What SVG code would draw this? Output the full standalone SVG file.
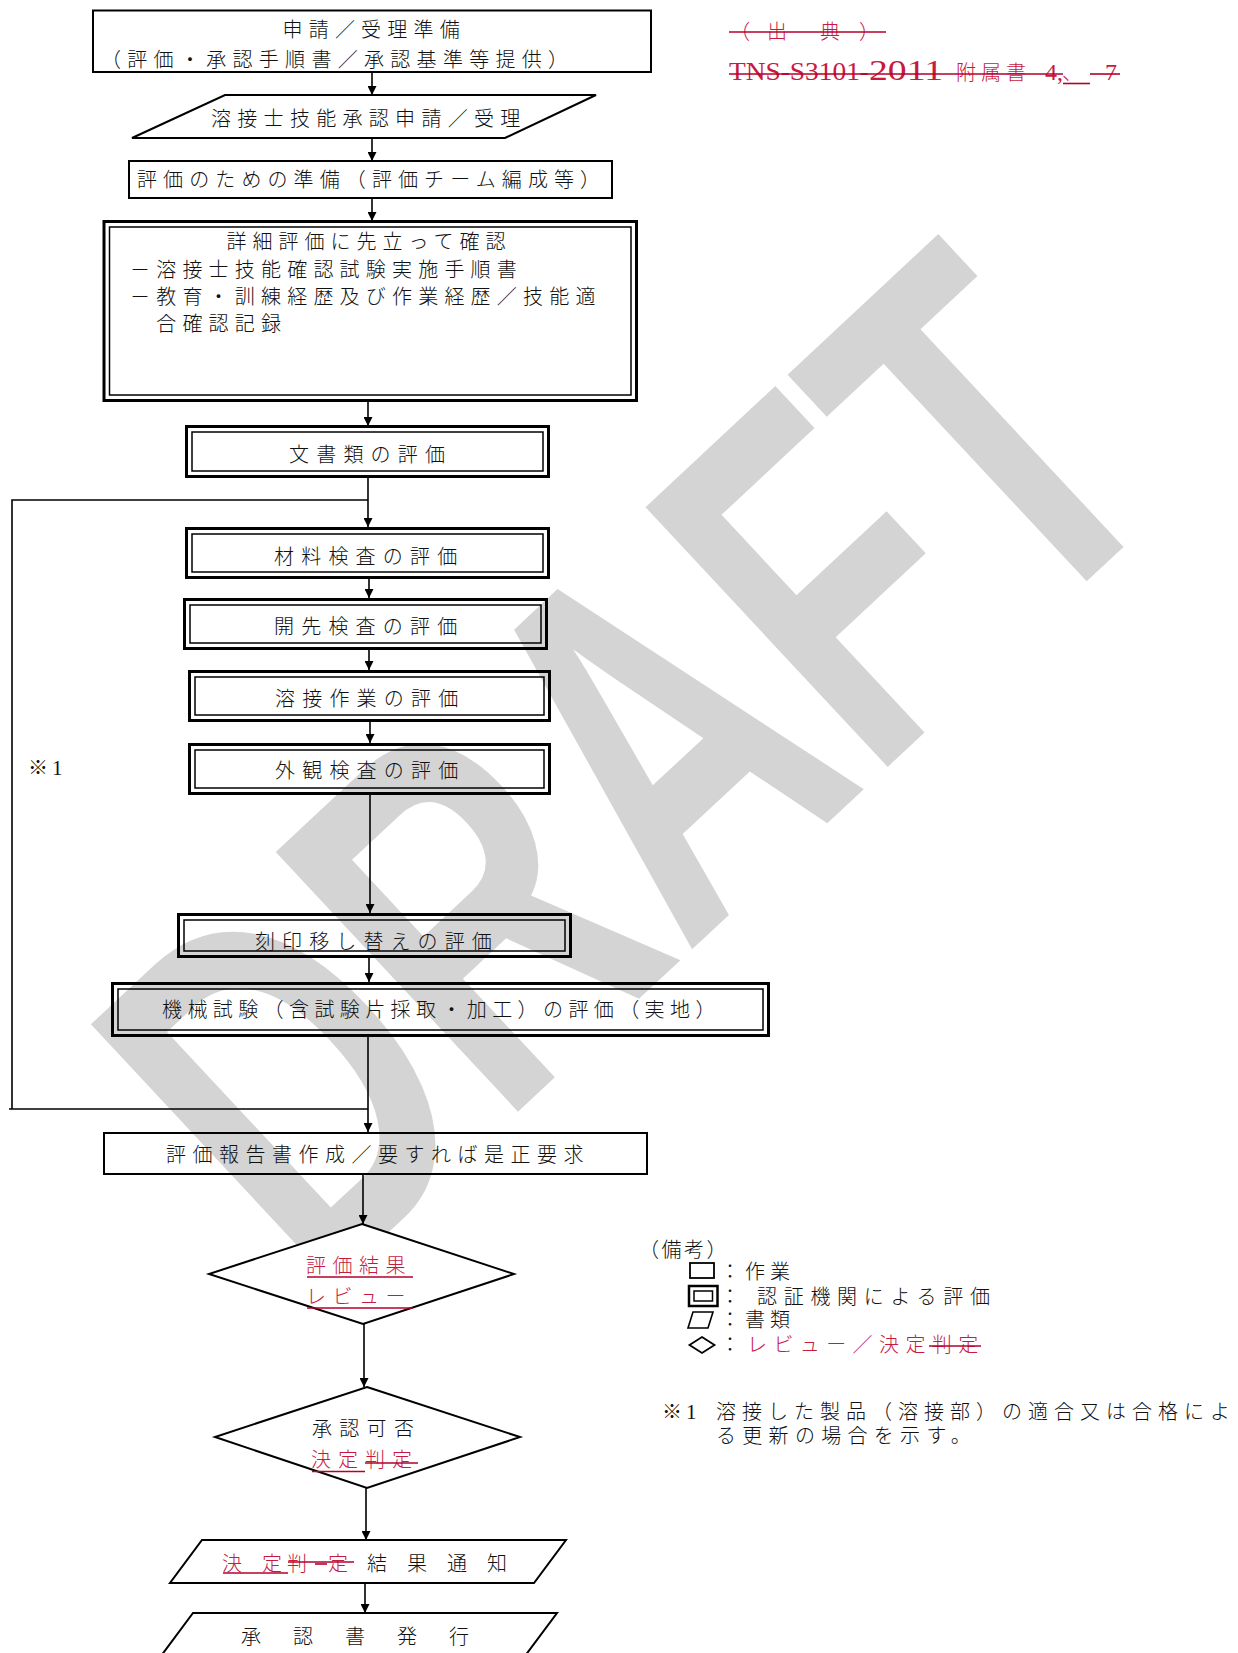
<svg xmlns="http://www.w3.org/2000/svg" width="1238" height="1653" viewBox="0 0 1238 1653">
<defs>
<marker id="ah" viewBox="0 0 10 10" refX="10" refY="5" markerWidth="9" markerHeight="9" markerUnits="userSpaceOnUse" orient="auto">
<path d="M0,0 L10,5 L0,10 Z" fill="#000"/>
</marker>
<style>
.t{font-family:"Noto Sans CJK JP","Noto Sans CJK SC",sans-serif;font-size:20px;font-weight:300;fill:#111}
.s{font-family:"Liberation Serif",serif;fill:#111}
.r{fill:#c8193f}
.rl{stroke:#b5002a;stroke-width:1.6;fill:none}
.box{fill:none;stroke:#000;stroke-width:2}
.shape{fill:#fff;stroke:#000;stroke-width:2}
.dbo{fill:none;stroke:#000;stroke-width:3}
.dbi{fill:none;stroke:#000;stroke-width:1.5}
.con{fill:none;stroke:#000;stroke-width:1.6}
.wm{font-family:"Liberation Sans",sans-serif;font-weight:bold;font-size:350px;fill:#cdcdcd;opacity:0.85}
</style>
</defs>
<rect width="1238" height="1653" fill="#fff"/>

<g id="watermark">
<text class="wm" x="0" y="0" transform="translate(316,1300) rotate(-43) scale(1,1.475)">DRAFT</text>
</g>

<g id="source-note">
<text class="t r" y="38.5"><tspan x="730">（</tspan><tspan x="767">出</tspan><tspan x="820">典</tspan><tspan x="859">）</tspan></text>
<line class="rl" x1="729" y1="32" x2="886" y2="32"/>
<text class="s r" x="729" y="80" font-size="26" textLength="140" lengthAdjust="spacingAndGlyphs">TNS-S3101-</text>
<text class="s r" x="869" y="80" font-size="29" textLength="74" lengthAdjust="spacingAndGlyphs">2011</text>
<text class="t r" x="956" y="80" font-size="22" letter-spacing="5">附属書</text>
<text class="s r" x="1045" y="80" font-size="24">4,</text>
<text class="t r" x="1062" y="80">、</text>
<text class="s r" x="1105" y="80" font-size="24">7</text>
<line class="rl" x1="729" y1="74" x2="1063" y2="74"/>
<line class="rl" x1="1090" y1="74" x2="1120" y2="74"/>
<line class="rl" x1="1063" y1="83.5" x2="1090" y2="83.5" stroke-width="2"/>
</g>

<g id="connectors">
<line class="con" x1="372" y1="73" x2="372" y2="95" marker-end="url(#ah)"/>
<line class="con" x1="372" y1="138" x2="372" y2="161" marker-end="url(#ah)"/>
<line class="con" x1="372" y1="199" x2="372" y2="221" marker-end="url(#ah)"/>
<line class="con" x1="368" y1="402" x2="368" y2="426" marker-end="url(#ah)"/>
<line class="con" x1="368" y1="478" x2="368" y2="527" marker-end="url(#ah)"/>
<path class="con" d="M368,500 H12 V1109"/>
<line class="con" x1="369" y1="579" x2="369" y2="598" marker-end="url(#ah)"/>
<line class="con" x1="369" y1="650" x2="369" y2="670" marker-end="url(#ah)"/>
<line class="con" x1="370" y1="722" x2="370" y2="743" marker-end="url(#ah)"/>
<line class="con" x1="370" y1="795" x2="370" y2="913" marker-end="url(#ah)"/>
<line class="con" x1="369" y1="958" x2="369" y2="982" marker-end="url(#ah)"/>
<line class="con" x1="368" y1="1037" x2="368" y2="1132" marker-end="url(#ah)"/>
<line class="con" x1="9" y1="1109" x2="368" y2="1109"/>
<line class="con" x1="363" y1="1175" x2="363" y2="1224" marker-end="url(#ah)"/>
<line class="con" x1="364" y1="1324" x2="364" y2="1387" marker-end="url(#ah)"/>
<line class="con" x1="366" y1="1488" x2="366" y2="1540" marker-end="url(#ah)"/>
<line class="con" x1="365" y1="1583" x2="365" y2="1613" marker-end="url(#ah)"/>
<text class="t" x="28" y="775">※</text>
<text class="s" x="52" y="775" font-size="21">1</text>
</g>

<g id="n1">
<rect class="box" x="93" y="10.5" width="558" height="61.5"/>
<text class="t" x="282.5" y="36.5" letter-spacing="6.2">申請／受理準備</text>
<text class="t" x="101" y="66.5" letter-spacing="6.3">（評価・承認手順書／承認基準等提供）</text>
</g>

<g id="n2">
<polygon class="shape" points="225,95 596,95 505,138 132,138"/>
<text class="t" x="211" y="126" letter-spacing="6.3">溶接士技能承認申請／受理</text>
</g>

<g id="n3">
<rect class="box" x="129" y="161" width="483" height="37"/>
<text class="t" x="137" y="187" letter-spacing="6.1">評価のための準備（評価チーム編成等）</text>
</g>

<g id="n4">
<rect class="dbo" x="104" y="221.5" width="532.5" height="179"/>
<rect class="dbi" x="109.5" y="227" width="521.5" height="168"/>
<text class="t" x="226.5" y="248.5" letter-spacing="6">詳細評価に先立って確認</text>
<text class="t" x="130" y="276.5" letter-spacing="6.2">－溶接士技能確認試験実施手順書</text>
<text class="t" x="130" y="303.5" letter-spacing="6.2">－教育・訓練経歴及び作業経歴／技能適</text>
<text class="t" x="130" y="330.5" letter-spacing="6.2">　合確認記録</text>
</g>

<g id="n5">
<rect class="dbo" x="186.5" y="426.5" width="362" height="50"/>
<rect class="dbi" x="192" y="432" width="351" height="39"/>
<text class="t" x="289" y="461.5" letter-spacing="7.2">文書類の評価</text>
</g>

<g id="n6">
<rect class="dbo" x="186.5" y="528.5" width="362" height="49"/>
<rect class="dbi" x="192" y="534" width="351" height="38"/>
<text class="t" x="274" y="563.5" letter-spacing="7.2">材料検査の評価</text>
</g>

<g id="n7">
<rect class="dbo" x="184.5" y="599.5" width="362" height="49"/>
<rect class="dbi" x="190" y="605" width="351" height="38"/>
<text class="t" x="274" y="633.5" letter-spacing="7.2">開先検査の評価</text>
</g>

<g id="n8">
<rect class="dbo" x="189.5" y="671.5" width="360" height="49"/>
<rect class="dbi" x="195" y="677" width="349" height="38"/>
<text class="t" x="275" y="705.5" letter-spacing="7.2">溶接作業の評価</text>
</g>

<g id="n9">
<rect class="dbo" x="189.5" y="744.5" width="360" height="49"/>
<rect class="dbi" x="195" y="750" width="349" height="38"/>
<text class="t" x="275" y="778" letter-spacing="7.2">外観検査の評価</text>
</g>

<g id="n10">
<rect class="dbo" x="178.5" y="914.5" width="392" height="42"/>
<rect class="dbi" x="184" y="920" width="381" height="31"/>
<text class="t" x="255" y="948.5" letter-spacing="7.1">刻印移し替えの評価</text>
</g>

<g id="n11">
<rect class="dbo" x="112.5" y="983.5" width="656" height="52"/>
<rect class="dbi" x="118" y="989" width="645" height="41"/>
<text class="t" x="162" y="1016.5" letter-spacing="5.4">機械試験（含試験片採取・加工）の評価（実地）</text>
</g>

<g id="n12">
<rect class="box" x="104" y="1133" width="543" height="41"/>
<text class="t" x="166" y="1161.5" letter-spacing="6.5">評価報告書作成／要すれば是正要求</text>
</g>

<g id="n13">
<polygon class="shape" points="362,1224 514,1274 363,1324 209,1274"/>
<text class="t r" x="306" y="1272.5" letter-spacing="6.5">評価結果</text>
<line class="rl" x1="307" y1="1277" x2="413" y2="1277" stroke-width="2.2"/>
<text class="t r" x="306" y="1304" letter-spacing="6.5">レビュー</text>
<line class="rl" x1="307" y1="1308" x2="413" y2="1308" stroke-width="1.2"/>
</g>

<g id="n14">
<polygon class="shape" points="367,1387 520,1437 367,1488 215,1437"/>
<text class="t" x="312" y="1435.5" letter-spacing="7.3">承認可否</text>
<text class="t r" x="311" y="1466.5" letter-spacing="7">決定判定</text>
<line class="rl" x1="312" y1="1471.5" x2="365" y2="1471.5"/>
<line class="rl" x1="365" y1="1463" x2="418" y2="1463" stroke-width="2"/>
</g>

<g id="n15">
<polygon class="shape" points="202,1540 566,1540 534,1583 170,1583"/>
<text class="t" y="1570.5"><tspan class="r" x="222">決</tspan><tspan class="r" x="262">定</tspan><tspan class="r" x="287">判</tspan><tspan class="r" x="328">定</tspan><tspan x="367">結</tspan><tspan x="407">果</tspan><tspan x="447">通</tspan><tspan x="487">知</tspan></text>
<line class="rl" x1="223" y1="1573" x2="288" y2="1573" stroke-width="2"/>
<line class="rl" x1="288" y1="1562" x2="354" y2="1562" stroke-width="1.6"/>
<line class="rl" x1="315" y1="1564" x2="327" y2="1564" stroke-width="2.2"/>
</g>

<g id="n16">
<polygon class="shape" points="193,1613 557,1613 522,1660 158,1660"/>
<text class="t" x="241" y="1643.5" letter-spacing="6">承　認　書　発　行</text>
</g>

<g id="legend">
<text class="t" x="639" y="1256.5" letter-spacing="2.5">（備考）</text>
<rect x="690" y="1263" width="24" height="15" fill="none" stroke="#000" stroke-width="1.8"/>
<text class="t" x="720" y="1279" letter-spacing="5">：作業</text>
<rect x="689" y="1286" width="28.5" height="20" fill="none" stroke="#000" stroke-width="2.5"/>
<rect x="694" y="1291" width="18.5" height="10" fill="none" stroke="#000" stroke-width="1.5"/>
<text class="t" x="720" y="1303.5">：</text>
<text class="t" x="757" y="1303.5" letter-spacing="6.7">認証機関による評価</text>
<polygon points="693,1312 713,1312 708,1328 688,1328" fill="none" stroke="#000" stroke-width="1.6"/>
<text class="t" x="720" y="1327" letter-spacing="5">：書類</text>
<polygon points="702,1337 714.5,1345 702,1353 689.5,1345" fill="none" stroke="#000" stroke-width="1.8"/>
<text class="t" x="720" y="1351.5">：</text>
<text class="t r" x="747" y="1351.5" letter-spacing="6.4">レビュー／決定判定</text>
<line class="rl" x1="929" y1="1346" x2="981" y2="1346" stroke-width="2"/>
</g>

<g id="footnote">
<text class="t" x="662" y="1419">※</text>
<text class="s" x="686" y="1419" font-size="21">1</text>
<text class="t" x="716" y="1419" letter-spacing="6">溶接した製品（溶接部）の適合又は合格によ</text>
<text class="t" x="716" y="1443" letter-spacing="6.3">る更新の場合を示す。</text>
</g>
</svg>
